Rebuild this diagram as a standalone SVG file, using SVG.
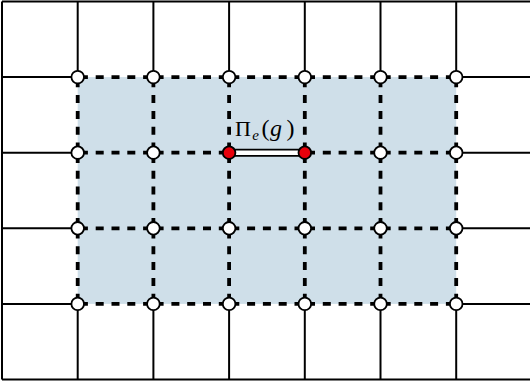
<svg xmlns="http://www.w3.org/2000/svg" width="530" height="387" viewBox="0 0 530 387">
<style>
.solid{stroke:#000;stroke-width:2;fill:none}
.dash{stroke:#000;stroke-width:3.8;fill:none;stroke-dasharray:8 7.8;stroke-dashoffset:-18}
.node{fill:#fff;stroke:#000;stroke-width:1.8}
.red{fill:#e8000b;stroke:#000;stroke-width:1.8}
.lbl{font-family:"Liberation Serif","DejaVu Serif",serif;font-size:21px;fill:#000}
</style>
<rect width="530" height="387" fill="#fff"/>
<rect x="77.7" y="77.1" width="378.5" height="226.8" fill="#cfdfe9"/>
<g id="connectors">
<g id="solid-lines" class="solid">
<line x1="2" y1="1.5" x2="530" y2="1.5"/>
<line x1="2" y1="379.5" x2="530" y2="379.5"/>
<line x1="2" y1="1.5" x2="2" y2="379.5"/>
<line x1="2" y1="77.1" x2="77.7" y2="77.1"/>
<line x1="2" y1="152.7" x2="77.7" y2="152.7"/>
<line x1="2" y1="228.3" x2="77.7" y2="228.3"/>
<line x1="2" y1="303.9" x2="77.7" y2="303.9"/>
<line x1="456.2" y1="77.1" x2="530" y2="77.1"/>
<line x1="456.2" y1="152.7" x2="530" y2="152.7"/>
<line x1="456.2" y1="228.3" x2="530" y2="228.3"/>
<line x1="456.2" y1="303.9" x2="530" y2="303.9"/>
<line x1="77.7" y1="1.5" x2="77.7" y2="77.1"/>
<line x1="153.4" y1="1.5" x2="153.4" y2="77.1"/>
<line x1="229.1" y1="1.5" x2="229.1" y2="77.1"/>
<line x1="304.8" y1="1.5" x2="304.8" y2="77.1"/>
<line x1="380.5" y1="1.5" x2="380.5" y2="77.1"/>
<line x1="456.2" y1="1.5" x2="456.2" y2="77.1"/>
<line x1="77.7" y1="303.9" x2="77.7" y2="379.5"/>
<line x1="153.4" y1="303.9" x2="153.4" y2="379.5"/>
<line x1="229.1" y1="303.9" x2="229.1" y2="379.5"/>
<line x1="304.8" y1="303.9" x2="304.8" y2="379.5"/>
<line x1="380.5" y1="303.9" x2="380.5" y2="379.5"/>
<line x1="456.2" y1="303.9" x2="456.2" y2="379.5"/>
</g>
<g id="dashed-lines" class="dash">
<path d="M77.7 77.1H153.4M153.4 77.1H229.1M229.1 77.1H304.8M304.8 77.1H380.5M380.5 77.1H456.2"/>
<path d="M77.7 152.7H153.4M153.4 152.7H229.1M304.8 152.7H380.5M380.5 152.7H456.2"/>
<path d="M77.7 228.3H153.4M153.4 228.3H229.1M229.1 228.3H304.8M304.8 228.3H380.5M380.5 228.3H456.2"/>
<path d="M77.7 303.9H153.4M153.4 303.9H229.1M229.1 303.9H304.8M304.8 303.9H380.5M380.5 303.9H456.2"/>
<path d="M77.7 77.1V152.7M77.7 152.7V228.3M77.7 228.3V303.9"/>
<path d="M153.4 77.1V152.7M153.4 152.7V228.3M153.4 228.3V303.9"/>
<path d="M229.1 77.1V152.7M229.1 152.7V228.3M229.1 228.3V303.9"/>
<path d="M304.8 77.1V152.7M304.8 152.7V228.3M304.8 228.3V303.9"/>
<path d="M380.5 77.1V152.7M380.5 152.7V228.3M380.5 228.3V303.9"/>
<path d="M456.2 77.1V152.7M456.2 152.7V228.3M456.2 228.3V303.9"/>
</g>
<g id="edge-e">
<line x1="229.1" y1="152.7" x2="304.8" y2="152.7" stroke="#000" stroke-width="8"/>
<line x1="229.1" y1="152.7" x2="304.8" y2="152.7" stroke="#fff" stroke-width="4.5"/>
</g>
</g>
<g id="nodes">
<g id="row1"><circle class="node" cx="77.7" cy="77.1" r="6.3"/><circle class="node" cx="153.4" cy="77.1" r="6.3"/><circle class="node" cx="229.1" cy="77.1" r="6.3"/><circle class="node" cx="304.8" cy="77.1" r="6.3"/><circle class="node" cx="380.5" cy="77.1" r="6.3"/><circle class="node" cx="456.2" cy="77.1" r="6.3"/></g>
<g id="row2"><circle class="node" cx="77.7" cy="152.7" r="6.3"/><circle class="node" cx="153.4" cy="152.7" r="6.3"/><circle class="red" cx="229.1" cy="152.7" r="6.3"/><circle class="red" cx="304.8" cy="152.7" r="6.3"/><circle class="node" cx="380.5" cy="152.7" r="6.3"/><circle class="node" cx="456.2" cy="152.7" r="6.3"/></g>
<g id="row3"><circle class="node" cx="77.7" cy="228.3" r="6.3"/><circle class="node" cx="153.4" cy="228.3" r="6.3"/><circle class="node" cx="229.1" cy="228.3" r="6.3"/><circle class="node" cx="304.8" cy="228.3" r="6.3"/><circle class="node" cx="380.5" cy="228.3" r="6.3"/><circle class="node" cx="456.2" cy="228.3" r="6.3"/></g>
<g id="row4"><circle class="node" cx="77.7" cy="303.9" r="6.3"/><circle class="node" cx="153.4" cy="303.9" r="6.3"/><circle class="node" cx="229.1" cy="303.9" r="6.3"/><circle class="node" cx="304.8" cy="303.9" r="6.3"/><circle class="node" cx="380.5" cy="303.9" r="6.3"/><circle class="node" cx="456.2" cy="303.9" r="6.3"/></g>
</g>
<g id="label">
<text class="lbl" y="136"><tspan x="235" font-size="22">Π</tspan><tspan x="252.3" font-style="italic" font-size="15" dy="3.5">e</tspan><tspan x="261.5" dy="-3.5" font-size="24">(</tspan><tspan x="270" font-style="italic" font-size="24">g</tspan><tspan x="286.5" font-size="24">)</tspan></text>
</g>
</svg>
